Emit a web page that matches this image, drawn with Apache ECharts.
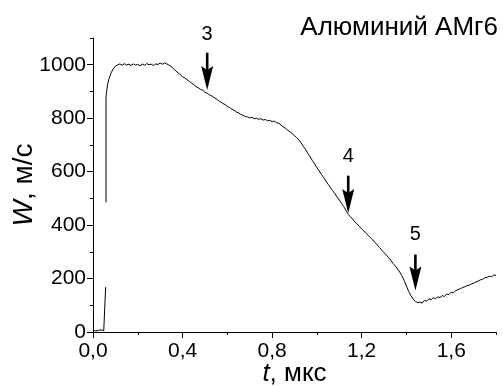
<!DOCTYPE html>
<html>
<head>
<meta charset="utf-8">
<script src="https://cdn.jsdelivr.net/npm/echarts@6/dist/echarts.min.js"></script>
<style>
html,body{margin:0;padding:0;background:#fff;}
#c{width:503px;height:386px;}
</style>
</head>
<body>
<div id="c"></div>
<script>
const chartTitle = 'Алюминий АМг6';
const xName = '{i|t}, мкс';
const yName = '{i|W}, м/с';
const xMajorTicks = [0, 0.4, 0.8, 1.2, 1.6];
const yMajorTicks = [0, 200, 400, 600, 800, 1000];

// arrows: position t, shaft top W, tip W, label W, label text
const arrowT = [0.51, 1.14, 1.44];
const arrowTop = [1045, 585, 290];
const arrowTip = [905, 445, 155];
const arrowLabelW = [1112, 655, 365];
const arrowLabels = ['3', '4', '5'];

// free-surface velocity trace [t (мкс), W (м/с)]
const trace = [
[0.000,8],[0.004,12],[0.008,6],[0.012,4],[0.016,7],[0.020,3],[0.024,6],[0.028,4],[0.032,5],
[0.036,8],[0.040,4],[0.044,6],[0.048,5],[0.052,9],[0.055,12],[0.0565,168],[0.057,'-'],
[0.058,485],[0.058,880],[0.060,893],[0.065,925],[0.070,944],[0.080,968],[0.090,984],[0.100,995],
[0.110,999],[0.120,1003],[0.130,998],[0.140,1004],[0.150,999],[0.160,1002],[0.170,997],
[0.180,1003],[0.190,999],[0.200,1001],[0.210,996],[0.220,1003],[0.230,998],[0.240,1004],
[0.250,1000],[0.260,1002],[0.270,997],[0.280,1003],[0.290,1001],[0.300,1006],[0.310,1002],
[0.320,1007],[0.330,1003],[0.340,998],[0.350,993],[0.360,985],[0.370,977],[0.380,969],
[0.390,963],[0.400,955],[0.410,951],[0.420,944],[0.430,938],[0.440,931],[0.450,926],
[0.460,918],[0.470,914],[0.480,908],[0.490,905],[0.500,897],[0.510,893],[0.520,887],
[0.530,884],[0.540,877],[0.550,873],[0.560,866],[0.570,861],[0.580,855],[0.590,851],
[0.600,844],[0.610,840],[0.620,834],[0.630,830],[0.640,823],[0.650,820],[0.660,814],
[0.670,811],[0.680,806],[0.690,805],[0.700,801],[0.710,803],[0.720,798],[0.730,800],
[0.740,796],[0.750,798],[0.760,793],[0.770,795],[0.780,790],[0.790,792],[0.800,787],
[0.810,789],[0.820,783],[0.830,781],[0.840,774],[0.850,767],[0.860,762],[0.870,755],
[0.880,749],[0.890,742],[0.900,735],[0.910,727],[0.920,718],[0.930,707],[0.940,694],
[0.950,682],[0.960,668],[0.970,655],[0.980,641],[0.990,629],[1.000,615],[1.010,603],
[1.020,590],[1.030,578],[1.040,565],[1.050,553],[1.060,541],[1.070,529],[1.080,518],
[1.090,505],[1.100,494],[1.110,481],[1.120,469],[1.130,455],[1.140,440],[1.150,431],
[1.160,422],[1.170,412],[1.180,404],[1.190,395],[1.200,386],[1.210,378],[1.220,369],
[1.230,361],[1.240,352],[1.250,344],[1.260,335],[1.270,325],[1.280,316],[1.290,306],
[1.300,297],[1.310,288],[1.320,278],[1.330,268],[1.340,257],[1.350,247],[1.360,236],
[1.370,224],[1.380,210],[1.390,192],[1.400,172],[1.410,152],[1.420,136],[1.430,123],
[1.440,114],[1.450,110],[1.460,112],[1.470,108],[1.480,118],[1.490,115],[1.500,124],
[1.510,121],[1.520,128],[1.530,125],[1.540,131],[1.550,129],[1.560,136],[1.570,133],
[1.580,142],[1.590,140],[1.600,149],[1.610,147],[1.620,155],[1.630,158],[1.640,162],
[1.650,166],[1.660,169],[1.670,173],[1.680,175],[1.690,180],[1.700,182],[1.710,187],
[1.720,190],[1.730,195],[1.740,197],[1.750,203],[1.760,204],[1.770,209],[1.780,207],
[1.790,213],[1.800,212]
];

const FONT = '"Liberation Sans", Arial, sans-serif';
const chart = echarts.init(document.getElementById('c'), null, {renderer: 'canvas'});

const arrowData = arrowT.map((t, i) => [t, arrowTop[i], arrowTip[i], arrowLabelW[i]]);

const option = {
  animation: false,
  backgroundColor: '#fff',
  title: {
    text: chartTitle, right: 0, top: 10,
    textStyle: {fontFamily: FONT, fontSize: 26, fontWeight: 'normal', color: '#000'}
  },
  grid: {left: 93, right: 7, top: 38, bottom: 54, containLabel: false, outerBoundsMode: 'none'},
  xAxis: [
    {
      type: 'value', min: 0, max: 1.8, interval: 0.2, position: 'bottom',
      axisLine: {show: true, lineStyle: {color: '#000', width: 1}},
      axisTick: {show: true, length: 3, lineStyle: {color: '#000', width: 1}},
      axisLabel: {show: false},
      splitLine: {show: false},
      name: xName, nameLocation: 'middle', nameGap: 29,
      nameTextStyle: {fontFamily: FONT, fontSize: 26, color: '#000',
        rich: {i: {fontFamily: FONT, fontSize: 26, fontStyle: 'italic', color: '#000'}}}
    },
    {
      type: 'value', min: 0, max: 1.8, position: 'bottom',
      axisLine: {show: false},
      axisTick: {show: true, length: 6, customValues: xMajorTicks, lineStyle: {color: '#000', width: 1}},
      axisLabel: {show: true, customValues: xMajorTicks, margin: 9,
        formatter: v => v.toFixed(1).replace('.', ','),
        fontFamily: FONT, fontSize: 21, color: '#000'},
      splitLine: {show: false}
    }
  ],
  yAxis: [
    {
      type: 'value', min: 0, max: 1100, interval: 100, position: 'left',
      axisLine: {show: true, lineStyle: {color: '#000', width: 1}},
      axisTick: {show: true, length: 3, lineStyle: {color: '#000', width: 1}},
      axisLabel: {show: false},
      splitLine: {show: false},
      name: yName, nameLocation: 'middle', nameGap: 55,
      nameTextStyle: {fontFamily: FONT, fontSize: 28, color: '#000',
        rich: {i: {fontFamily: FONT, fontSize: 28, fontStyle: 'italic', color: '#000'}}}
    },
    {
      type: 'value', min: 0, max: 1100, position: 'left',
      axisLine: {show: false},
      axisTick: {show: true, length: 6, customValues: yMajorTicks, lineStyle: {color: '#000', width: 1}},
      axisLabel: {show: true, customValues: yMajorTicks, margin: 7,
        formatter: v => String(v),
        fontFamily: FONT, fontSize: 21, color: '#000'},
      splitLine: {show: false}
    }
  ],
  series: [
    {
      type: 'line', xAxisIndex: 0, yAxisIndex: 0,
      data: trace, showSymbol: false, symbol: 'none', connectNulls: false,
      lineStyle: {color: '#000', width: 1}, clip: false, z: 2
    },
    {
      type: 'custom', xAxisIndex: 0, yAxisIndex: 0, data: arrowData, clip: false, z: 3,
      renderItem: function (params, api) {
        const t = api.value(0);
        const pTop = api.coord([t, api.value(1)]);
        const pTip = api.coord([t, api.value(2)]);
        const pLab = api.coord([t, api.value(3)]);
        const headL = 24, headW = 6, notch = 4;
        const x = pTip[0], y = pTip[1];
        return {
          type: 'group',
          children: [
            {type: 'line', shape: {x1: pTop[0], y1: pTop[1], x2: x, y2: y - headL + notch + 1},
             style: {stroke: '#000', lineWidth: 2.6}},
            {type: 'polygon', shape: {points: [[x, y], [x - headW, y - headL], [x, y - headL + notch], [x + headW, y - headL]]},
             style: {fill: '#000'}},
            {type: 'text', x: pLab[0], y: pLab[1],
             style: {text: arrowLabels[params.dataIndex], fontFamily: FONT, fontSize: 20,
                     fill: '#000', align: 'center', verticalAlign: 'middle'}}
          ]
        };
      }
    }
  ]
};
chart.setOption(option);
</script>
</body>
</html>
